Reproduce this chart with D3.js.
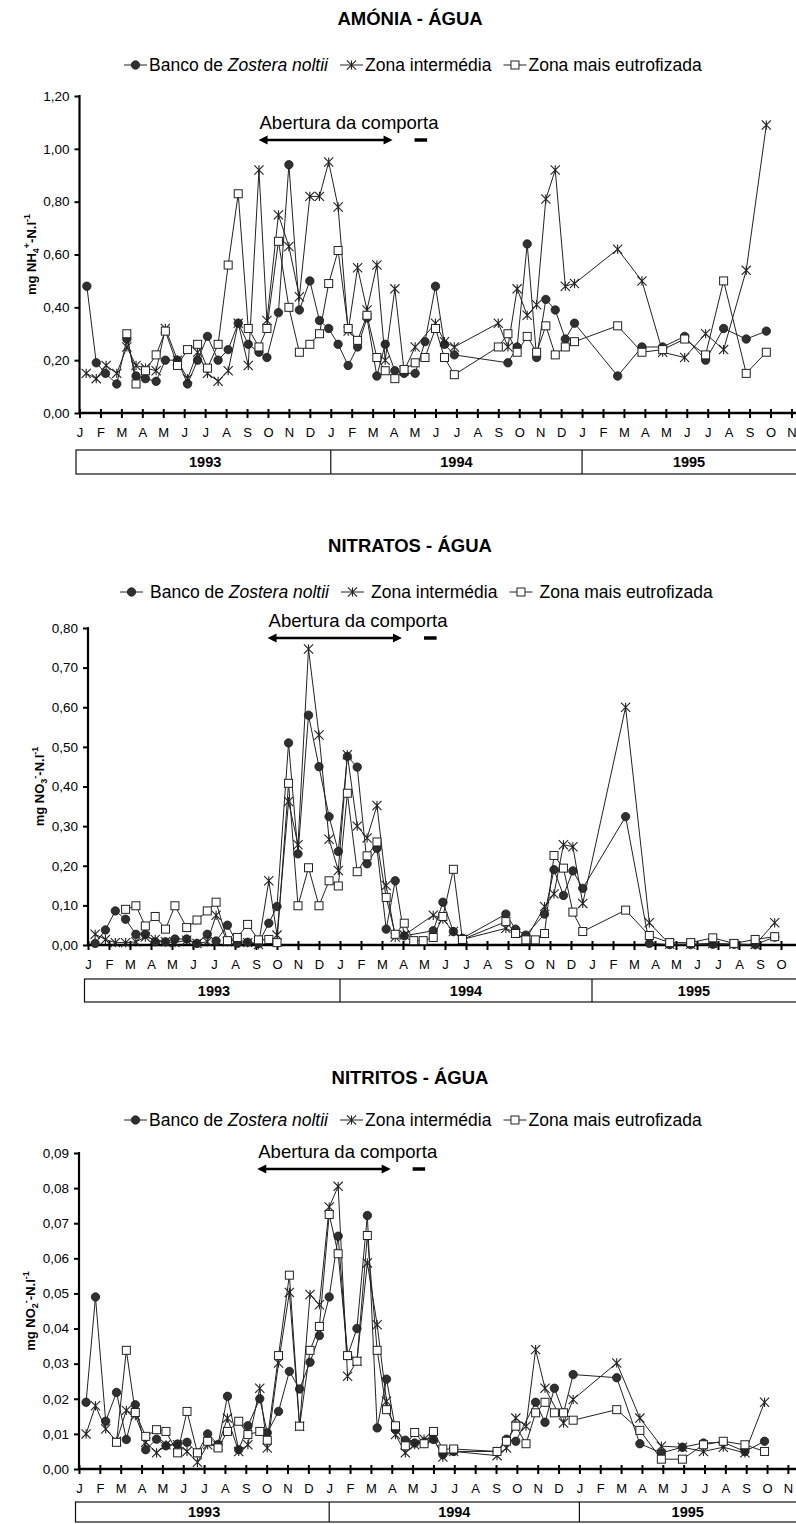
<!DOCTYPE html>
<html><head><meta charset="utf-8">
<script src="https://cdn.jsdelivr.net/npm/d3@7"></script>
<style>
body{margin:0;background:#fff}
svg{display:block;font-family:"Liberation Sans",Arial,sans-serif}
</style></head><body>
<svg id="chart" width="796" height="1524"></svg>
<script>
// Month tick labels, Jan 1993 .. Nov 1995
const monthLabels = ["J","F","M","A","M","J","J","A","S","O","N","D",
                     "J","F","M","A","M","J","J","A","S","O","N","D",
                     "J","F","M","A","M","J","J","A","S","O","N"];
const yearLabels = ["1993","1994","1995"];
const seriesLabels = ["Banco de ", "Zona intermédia", "Zona mais eutrofizada"];

// Sampling dates are given as months since 1 Jan 1993, paired with the measured value.
const amoniaBanco = [[0.35,0.48],[0.80,0.19],[1.24,0.15],[1.78,0.11],[2.26,0.28],[2.70,0.14],[3.15,0.13],[3.66,0.12],[4.10,0.20],[4.68,0.20],[5.16,0.11],[5.64,0.20],[6.11,0.29],[6.62,0.20],[7.10,0.24],[7.58,0.34],[8.06,0.26],[8.57,0.23],[8.95,0.21],[9.50,0.38],[10.00,0.94],[10.50,0.39],[11.00,0.50],[11.46,0.35],[11.90,0.32],[12.35,0.26],[12.83,0.18],[13.28,0.25],[13.73,0.36],[14.20,0.14],[14.60,0.26],[15.06,0.16],[15.50,0.15],[16.03,0.15],[16.50,0.27],[17.00,0.48],[17.43,0.26],[17.90,0.22],[20.46,0.19],[20.90,0.25],[21.38,0.64],[21.83,0.21],[22.27,0.43],[22.72,0.39],[23.20,0.28],[23.64,0.34],[25.70,0.14],[26.86,0.25],[27.85,0.25],[28.90,0.29],[29.90,0.20],[30.76,0.32],[31.84,0.28],[32.80,0.31]];
const amoniaZona = [[0.32,0.15],[0.80,0.13],[1.27,0.18],[1.78,0.15],[2.26,0.25],[2.70,0.18],[3.15,0.17],[3.66,0.16],[4.10,0.32],[4.68,0.20],[5.16,0.13],[5.64,0.23],[6.11,0.15],[6.62,0.12],[7.10,0.16],[7.58,0.34],[8.06,0.18],[8.57,0.92],[8.95,0.35],[9.50,0.75],[10.00,0.63],[10.50,0.44],[11.00,0.82],[11.46,0.82],[11.90,0.95],[12.35,0.78],[12.83,0.31],[13.28,0.55],[13.73,0.39],[14.20,0.56],[14.60,0.20],[15.06,0.47],[15.50,0.16],[16.03,0.25],[17.00,0.34],[17.43,0.27],[17.90,0.25],[20.00,0.34],[20.46,0.25],[20.90,0.47],[21.38,0.37],[21.83,0.41],[22.27,0.81],[22.72,0.92],[23.20,0.48],[23.64,0.49],[25.70,0.62],[26.86,0.50],[27.85,0.23],[28.90,0.21],[29.90,0.30],[30.76,0.24],[31.84,0.54],[32.80,1.09]];
const amoniaEutro = [[2.26,0.30],[2.70,0.11],[3.15,0.16],[3.66,0.22],[4.10,0.31],[4.68,0.18],[5.16,0.24],[5.64,0.26],[6.11,0.17],[6.62,0.26],[7.10,0.56],[7.58,0.83],[8.06,0.32],[8.57,0.25],[8.95,0.32],[9.50,0.65],[10.00,0.40],[10.50,0.23],[11.00,0.26],[11.46,0.30],[11.90,0.49],[12.35,0.615],[12.83,0.32],[13.28,0.275],[13.73,0.37],[14.20,0.21],[14.60,0.16],[15.06,0.13],[15.50,0.165],[16.03,0.19],[16.50,0.21],[17.00,0.32],[17.43,0.21],[17.90,0.145],[20.00,0.25],[20.46,0.30],[20.90,0.23],[21.38,0.29],[21.83,0.23],[22.27,0.33],[22.72,0.22],[23.20,0.25],[23.64,0.27],[25.70,0.33],[26.86,0.23],[27.85,0.24],[28.90,0.28],[29.90,0.22],[30.76,0.50],[31.84,0.15],[32.80,0.23]];

const nitratoBanco = [[0.34,0.004],[0.83,0.038],[1.30,0.086],[1.79,0.065],[2.28,0.027],[2.73,0.027],[3.20,0.008],[3.69,0.008],[4.14,0.015],[4.70,0.015],[5.19,0.004],[5.68,0.027],[6.10,0.010],[6.64,0.050],[7.11,0.004],[7.60,0.007],[8.12,0.004],[8.61,0.055],[9.00,0.097],[9.55,0.510],[10.00,0.230],[10.50,0.580],[11.00,0.450],[11.48,0.324],[11.92,0.236],[12.35,0.476],[12.82,0.449],[13.29,0.205],[13.76,0.244],[14.20,0.040],[14.63,0.162],[15.06,0.023],[16.44,0.036],[16.90,0.108],[17.40,0.034],[17.83,0.017],[19.90,0.078],[20.36,0.040],[20.85,0.025],[21.74,0.078],[22.19,0.190],[22.64,0.125],[23.09,0.187],[23.56,0.143],[25.60,0.324],[26.73,0.004],[27.70,0.001],[28.70,0.001],[29.75,0.002],[30.76,0.002],[31.77,0.001],[32.70,0.020]];
const nitratoZona = [[0.34,0.027],[0.83,0.014],[1.30,0.006],[1.79,0.006],[2.28,0.008],[2.73,0.020],[3.20,0.014],[3.69,0.008],[4.14,0.006],[4.70,0.012],[5.19,0.004],[5.68,0.008],[6.10,0.075],[6.64,0.008],[7.11,0.014],[7.60,0.006],[8.12,0.001],[8.61,0.162],[9.00,0.025],[9.55,0.362],[10.00,0.253],[10.50,0.747],[11.00,0.530],[11.48,0.267],[11.92,0.188],[12.35,0.480],[12.82,0.300],[13.29,0.270],[13.76,0.352],[14.20,0.150],[14.63,0.020],[15.06,0.025],[16.44,0.075],[16.90,0.065],[17.40,0.034],[17.83,0.014],[19.90,0.042],[20.36,0.030],[20.85,0.014],[21.74,0.097],[22.19,0.129],[22.64,0.253],[23.09,0.248],[23.56,0.105],[25.60,0.600],[26.73,0.056],[27.70,0.002],[28.70,0.002],[29.75,0.004],[30.76,0.002],[31.77,0.001],[32.70,0.056]];
const nitratoEutro = [[1.79,0.090],[2.28,0.099],[2.73,0.048],[3.20,0.072],[3.69,0.040],[4.14,0.099],[4.70,0.044],[5.19,0.063],[5.68,0.086],[6.10,0.108],[6.64,0.011],[7.11,0.019],[7.60,0.052],[8.12,0.013],[8.61,0.014],[9.00,0.006],[9.55,0.408],[10.00,0.099],[10.50,0.195],[11.00,0.099],[11.48,0.162],[11.92,0.149],[12.35,0.383],[12.82,0.185],[13.29,0.225],[13.76,0.260],[14.20,0.120],[14.63,0.027],[15.06,0.055],[15.51,0.011],[15.96,0.011],[16.44,0.019],[16.90,0.072],[17.40,0.191],[17.83,0.014],[19.90,0.059],[20.36,0.029],[20.85,0.013],[21.30,0.013],[21.74,0.029],[22.19,0.226],[22.64,0.194],[23.09,0.083],[23.56,0.034],[25.60,0.088],[26.73,0.024],[27.70,0.006],[28.70,0.006],[29.75,0.018],[30.76,0.004],[31.77,0.014],[32.70,0.021]];

const nitritoBanco = [[0.34,0.0190],[0.79,0.0490],[1.28,0.0136],[1.80,0.0218],[2.27,0.0084],[2.70,0.0183],[3.20,0.0055],[3.72,0.0085],[4.17,0.0066],[4.73,0.0071],[5.18,0.0076],[5.68,0.0046],[6.17,0.0100],[6.67,0.0070],[7.12,0.0207],[7.66,0.0055],[8.10,0.0123],[8.67,0.0200],[9.03,0.0103],[9.57,0.0164],[10.09,0.0278],[10.58,0.0228],[11.08,0.0304],[11.53,0.0380],[12.00,0.0490],[12.43,0.0663],[12.88,0.0323],[13.33,0.0400],[13.83,0.0722],[14.30,0.0117],[14.75,0.0256],[15.18,0.0112],[15.65,0.0082],[16.10,0.0074],[16.55,0.0076],[17.00,0.0084],[17.45,0.0041],[17.97,0.0050],[20.05,0.0050],[20.50,0.0085],[20.95,0.0079],[21.90,0.0190],[22.35,0.0133],[22.80,0.0230],[23.24,0.0160],[23.70,0.0269],[25.79,0.0260],[26.90,0.0072],[27.93,0.0046],[28.94,0.0062],[29.95,0.0074],[30.90,0.0076],[31.94,0.0050],[32.88,0.0079]];
const nitritoZona = [[0.34,0.0100],[0.79,0.0180],[1.28,0.0114],[1.80,0.0079],[2.27,0.0167],[2.70,0.0152],[3.20,0.0076],[3.72,0.0046],[4.17,0.0069],[4.73,0.0069],[5.18,0.0050],[5.68,0.0019],[6.17,0.0069],[6.67,0.0066],[7.12,0.0145],[7.66,0.0050],[8.10,0.0069],[8.67,0.0230],[9.03,0.0060],[9.57,0.0302],[10.09,0.0503],[10.58,0.0122],[11.08,0.0497],[11.53,0.0468],[12.00,0.0746],[12.43,0.0805],[12.88,0.0264],[13.33,0.0307],[13.83,0.0587],[14.30,0.0411],[14.75,0.0193],[15.18,0.0098],[15.65,0.0046],[16.10,0.0069],[16.55,0.0085],[17.00,0.0088],[17.45,0.0034],[17.97,0.0050],[20.05,0.0038],[20.50,0.0060],[20.95,0.0145],[21.44,0.0122],[21.90,0.0340],[22.35,0.0230],[23.24,0.0131],[23.70,0.0198],[25.79,0.0302],[26.90,0.0145],[27.93,0.0065],[28.94,0.0062],[29.95,0.0050],[30.90,0.0062],[31.94,0.0046],[32.88,0.0190]];
const nitritoEutro = [[1.80,0.0076],[2.27,0.0338],[2.70,0.0161],[3.20,0.0093],[3.72,0.0112],[4.17,0.0107],[4.73,0.0046],[5.18,0.0164],[5.68,0.0046],[6.17,0.0079],[6.67,0.0060],[7.12,0.0107],[7.66,0.0136],[8.10,0.0098],[8.67,0.0107],[9.03,0.0082],[9.57,0.0323],[10.09,0.0552],[10.58,0.0122],[11.08,0.0338],[11.53,0.0406],[12.00,0.0725],[12.43,0.0613],[12.88,0.0323],[13.33,0.0307],[13.83,0.0665],[14.30,0.0338],[14.75,0.0169],[15.18,0.0123],[15.65,0.0066],[16.10,0.0104],[16.55,0.0072],[17.00,0.0107],[17.45,0.0057],[17.97,0.0057],[20.05,0.0050],[20.50,0.0079],[20.95,0.0122],[21.44,0.0072],[21.90,0.0160],[22.35,0.0190],[22.80,0.0160],[23.24,0.0160],[23.70,0.0139],[25.79,0.0169],[26.90,0.0110],[27.93,0.0028],[28.94,0.0028],[29.95,0.0069],[30.90,0.0079],[31.94,0.0069],[32.88,0.0050]];

// Period the sluice gate was open (months since Jan 1993), and the short later opening
const gateOpen = [8.55, 14.95];
const gateShort = [16.0, 16.6];

const W = 796, H = 1524;
const svg = d3.select("#chart");
const fmt = v => d3.format(".2f")(v).replace(".", ",");

const panels = [
  { title: "AMÓNIA - ÁGUA", ion: ["NH", "4", "+"], series: [amoniaBanco, amoniaZona, amoniaEutro],
    yMax: 1.2, yStep: 0.2, x0: 79.5, step: 20.94, top: 96, bottom: 413,
    titleY: 19, legendY: 65, legendX: 124, legendGap: 2, arrowY: 140, band: [37, 61] },
  { title: "NITRATOS - ÁGUA", ion: ["NO", "3", "-"], series: [nitratoBanco, nitratoZona, nitratoEutro],
    yMax: 0.8, yStep: 0.1, x0: 88, step: 21.0, top: 628, bottom: 945,
    titleY: 546, legendY: 592, legendX: 120, legendGap: 7, arrowY: 638, band: [34, 57] },
  { title: "NITRITOS - ÁGUA", ion: ["NO", "2", "-"], series: [nitritoBanco, nitritoZona, nitritoEutro],
    yMax: 0.09, yStep: 0.01, x0: 79, step: 20.85, top: 1153, bottom: 1469,
    titleY: 1078, legendY: 1120, legendX: 124, legendGap: 2, arrowY: 1169, band: [33, 53] }
];

const starPath = s => `M${-s},${-s}L${s},${s}M${-s},${s}L${s},${-s}M0,${-s}L0,${s}`;

function drawMarker(g, kind, x, y) {
  if (kind === 0) {
    g.append("circle").attr("cx", x).attr("cy", y).attr("r", 4.2)
      .attr("fill", "#303030").attr("stroke", "#1a1a1a").attr("stroke-width", 0.8);
  } else if (kind === 1) {
    g.append("path").attr("transform", `translate(${x},${y})`).attr("d", starPath(4.6))
      .attr("fill", "none").attr("stroke", "#222").attr("stroke-width", 1.1);
  } else {
    g.append("rect").attr("x", x - 4).attr("y", y - 4).attr("width", 8).attr("height", 8)
      .attr("fill", "#fff").attr("stroke", "#222").attr("stroke-width", 1);
  }
}

panels.forEach(p => {
  const g = svg.append("g");
  const x = d3.scaleLinear().domain([0, 34]).range([p.x0, p.x0 + 34 * p.step]);
  const y = d3.scaleLinear().domain([0, p.yMax]).range([p.bottom, p.top]);

  // title
  g.append("text").attr("x", 410).attr("y", p.titleY).attr("dy", "0.35em")
    .attr("text-anchor", "middle").attr("font-weight", "bold").attr("font-size", 18.5)
    .text(p.title);

  // legend
  const lg = g.append("g");
  let lx = p.legendX;
  seriesLabels.forEach((lab, i) => {
    lg.append("line").attr("x1", lx).attr("x2", lx + 23).attr("y1", p.legendY).attr("y2", p.legendY)
      .attr("stroke", "#222").attr("stroke-width", 1);
    drawMarker(lg, i, lx + 11.5, p.legendY);
    lx += 23 + p.legendGap;
    const t = lg.append("text").attr("x", lx).attr("y", p.legendY).attr("dy", "0.35em")
      .attr("font-size", 17.5);
    t.append("tspan").text(lab);
    if (i === 0) t.append("tspan").attr("font-style", "italic").text("Zostera noltii");
    lx += t.node().getComputedTextLength() + 12;
  });

  // y axis
  const nT = Math.round(p.yMax / p.yStep);
  const yAxis = d3.axisLeft(y).tickValues(d3.range(nT + 1).map(i => i * p.yStep))
    .tickFormat(fmt).tickSizeInner(5).tickSizeOuter(0).tickPadding(5);
  const ya = g.append("g").attr("transform", `translate(${p.x0},0)`).call(yAxis);
  ya.select(".domain").remove();
  ya.selectAll(".tick line").attr("stroke", "#000").attr("stroke-width", 2);
  ya.selectAll(".tick text").attr("font-size", 13.5).attr("fill", "#000").attr("font-family", null);
  g.append("line").attr("x1", p.x0).attr("x2", p.x0).attr("y1", p.top - 1).attr("y2", p.bottom)
    .attr("stroke", "#000").attr("stroke-width", 2.2);

  // y axis title
  const yt = g.append("text")
    .attr("transform", `translate(${p.x0 - 44},${(p.top + p.bottom) / 2}) rotate(-90)`)
    .attr("text-anchor", "middle").attr("font-weight", "bold").attr("font-size", 13);
  yt.append("tspan").text("mg " + p.ion[0]);
  yt.append("tspan").attr("font-size", 9).attr("dy", 3).text(p.ion[1]);
  yt.append("tspan").attr("font-size", 9).attr("dy", -9).text(p.ion[2]);
  yt.append("tspan").attr("dy", 6).text("-N.l");
  yt.append("tspan").attr("font-size", 9).attr("dy", -6).text("-1");

  // x axis
  const xAxis = d3.axisBottom(x).tickValues(d3.range(35)).tickFormat(i => monthLabels[i])
    .tickSizeInner(5).tickSizeOuter(0).tickPadding(10);
  const xa = g.append("g").attr("transform", `translate(0,${p.bottom})`).call(xAxis);
  xa.select(".domain").remove();
  xa.selectAll(".tick line").attr("y1", -4).attr("stroke", "#000").attr("stroke-width", 2);
  xa.selectAll(".tick text").attr("font-size", 13).attr("fill", "#000").attr("font-family", null);
  g.append("line").attr("x1", p.x0).attr("x2", W).attr("y1", p.bottom).attr("y2", p.bottom)
    .attr("stroke", "#000").attr("stroke-width", 2.4);

  // year band
  const by0 = p.bottom + p.band[0], by1 = Math.min(p.bottom + p.band[1], H - 1.5);
  g.append("rect").attr("x", p.x0 - 3.5).attr("y", by0).attr("width", W + 10 - p.x0).attr("height", by1 - by0)
    .attr("fill", "none").attr("stroke", "#111").attr("stroke-width", 1.2);
  [12, 24].forEach(m => g.append("line").attr("x1", x(m)).attr("x2", x(m)).attr("y1", by0).attr("y2", by1)
    .attr("stroke", "#111").attr("stroke-width", 1.2));
  const yearCenters = [(x(0) + x(12)) / 2, (x(12) + x(24)) / 2, (x(24) + W) / 2];
  yearLabels.forEach((yl, i) => g.append("text").attr("x", yearCenters[i]).attr("y", (by0 + by1) / 2)
    .attr("dy", "0.36em").attr("text-anchor", "middle").attr("font-weight", "bold").attr("font-size", 14.5).text(yl));

  // gate opening annotation
  const ax0 = x(gateOpen[0]), ax1 = x(gateOpen[1]);
  g.append("text").attr("x", ax0 + 1).attr("y", p.arrowY - 17).attr("dy", "0.35em")
    .attr("font-size", 18.5).text("Abertura da comporta");
  g.append("line").attr("x1", ax0 + 6).attr("x2", ax1 - 6).attr("y1", p.arrowY).attr("y2", p.arrowY)
    .attr("stroke", "#000").attr("stroke-width", 2.6);
  g.append("path").attr("d", `M${ax0},${p.arrowY}L${ax0 + 9},${p.arrowY - 4.5}L${ax0 + 9},${p.arrowY + 4.5}Z`).attr("fill", "#000");
  g.append("path").attr("d", `M${ax1},${p.arrowY}L${ax1 - 9},${p.arrowY - 4.5}L${ax1 - 9},${p.arrowY + 4.5}Z`).attr("fill", "#000");
  g.append("line").attr("x1", x(gateShort[0])).attr("x2", x(gateShort[1])).attr("y1", p.arrowY).attr("y2", p.arrowY)
    .attr("stroke", "#000").attr("stroke-width", 3.5);

  // series: line then markers, in legend order
  const line = d3.line().x(d => x(d[0])).y(d => y(d[1]));
  p.series.forEach((data, k) => {
    g.append("path").datum(data).attr("d", line).attr("fill", "none")
      .attr("stroke", "#222").attr("stroke-width", 1);
    data.forEach(d => drawMarker(g, k, x(d[0]), y(d[1])));
  });
});
</script>
</body></html>
